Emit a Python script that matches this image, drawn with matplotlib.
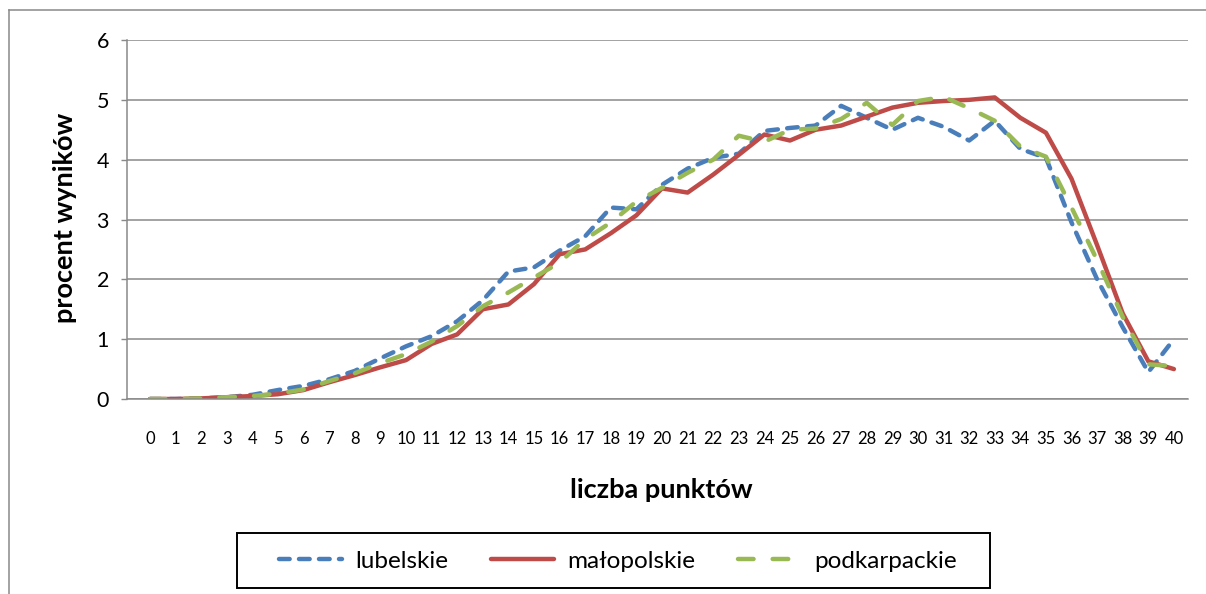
"""Rozkład wyników: procent wyników wg liczby punktów (out.png)."""

import matplotlib

matplotlib.use("Agg")
import matplotlib.pyplot as plt  # noqa: E402
from matplotlib.lines import Line2D  # noqa: E402
from matplotlib.patches import Rectangle  # noqa: E402

points = list(range(41))
lubelskie = [0, 0, 0.01, 0.03, 0.07, 0.15, 0.22, 0.33, 0.47, 0.68,
             0.88, 1.05, 1.3, 1.65, 2.13, 2.2, 2.48, 2.72, 3.2, 3.17,
             3.58, 3.85, 4.03, 4.1, 4.48, 4.53, 4.57, 4.9, 4.7, 4.5,
             4.7, 4.55, 4.32, 4.65, 4.18, 4.03, 2.95, 2.0, 1.2, 0.45, 1.0]
malopolskie = [0, 0, 0.01, 0.03, 0.05, 0.08, 0.15, 0.28, 0.4, 0.53,
               0.65, 0.92, 1.08, 1.5, 1.58, 1.92, 2.42, 2.5, 2.77, 3.07,
               3.52, 3.45, 3.75, 4.08, 4.42, 4.32, 4.5, 4.57, 4.72, 4.87,
               4.95, 4.98, 5.0, 5.04, 4.7, 4.45, 3.68, 2.57, 1.43, 0.63, 0.5]
podkarpackie = [0, 0, 0.01, 0.03, 0.05, 0.09, 0.16, 0.3, 0.43, 0.6,
                0.75, 0.96, 1.22, 1.55, 1.78, 2.03, 2.28, 2.67, 2.95, 3.3,
                3.53, 3.78, 4.0, 4.4, 4.3, 4.5, 4.52, 4.68, 4.95, 4.58,
                4.98, 5.05, 4.86, 4.65, 4.22, 4.05, 3.2, 2.32, 1.37, 0.58, 0.55]
y_ticks = [0, 1, 2, 3, 4, 5, 6]

BLUE = "#4A7EBB"
RED = "#BE4B48"
GREEN = "#98B954"
GRID = "#898989"

plt.rcParams["font.family"] = ["Lato", "DejaVu Sans"]

W, H = 1206, 594
fig = plt.figure(figsize=(W / 100, H / 100), dpi=100)
ax = fig.add_axes([127 / W, 1 - 399 / H, (1188 - 127) / W, (399 - 40) / H])

ax.plot(points, lubelskie, color=BLUE, lw=3.2, dashes=(2.4, 2.1), dash_capstyle="round", label="lubelskie")
ax.plot(points, malopolskie, color=RED, lw=3.2, solid_capstyle="round", solid_joinstyle="round", label="małopolskie")
ax.plot(points, podkarpackie, color=GREEN, lw=3.2, dashes=(3.5, 4.3), dash_capstyle="round", label="podkarpackie")

ax.set_xlim(-0.9, 40.55)
ax.set_ylim(0, 6)
ax.set_xticks(points)
ax.set_yticks(y_ticks)
ax.tick_params(axis="x", length=0, pad=23, labelsize=12)
ax.tick_params(axis="y", length=4, width=1, color=GRID, pad=9, labelsize=15.5)
ax.yaxis.grid(True, color=GRID, lw=1.1)
ax.set_axisbelow(True)
for side in ("top", "right"):
    ax.spines[side].set_visible(False)
for side in ("left", "bottom"):
    ax.spines[side].set_color(GRID)
    ax.spines[side].set_linewidth(1.1)

fig.text(65 / W, 1 - 218 / H, "procent wyników", rotation=90, ha="center", va="center",
         fontsize=19.5, fontweight="bold")
fig.text(661 / W, 1 - 490 / H, "liczba punktów", ha="center", va="center",
         fontsize=19.5, fontweight="bold")

# outer chart frame (only top and left edges are visible in the crop)
fig.add_artist(Line2D([9 / W, 1], [1 - 10 / H] * 2, transform=fig.transFigure, color=GRID, lw=1.1))
fig.add_artist(Line2D([9 / W] * 2, [0, 1 - 10 / H], transform=fig.transFigure, color=GRID, lw=1.1))

# legend box drawn separately so its size matches the original
fig.add_artist(Rectangle((237 / W, 1 - 588 / H), 753 / W, 55 / H, transform=fig.transFigure,
                         fill=False, ec="black", lw=1.4))
handles, labels = ax.get_legend_handles_labels()
fig.legend(handles, labels, loc="center", ncol=3, bbox_to_anchor=(618 / W, 1 - 561 / H),
           frameon=False, fontsize=17.5, handlelength=2.6, handletextpad=0.55,
           columnspacing=1.75, borderpad=0)

fig.savefig("out.png", dpi=100)
